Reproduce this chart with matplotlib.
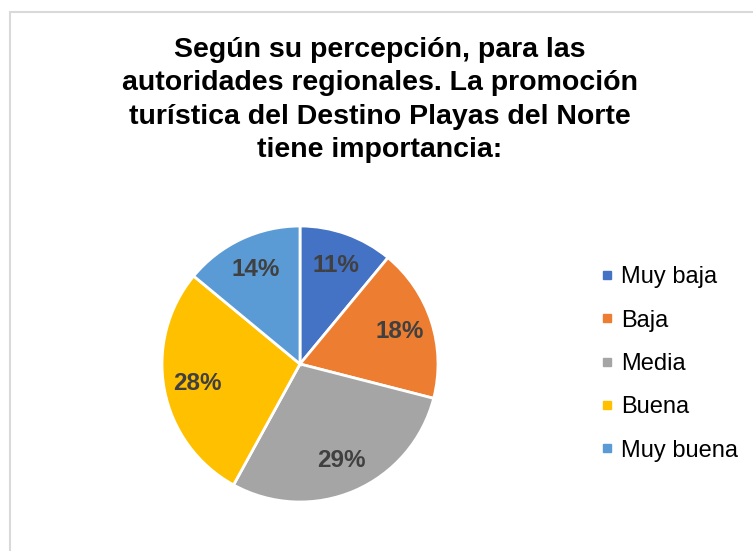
import matplotlib.pyplot as plt
from matplotlib.lines import Line2D
from matplotlib.patches import Rectangle

plt.rcParams["font.family"] = ["Liberation Sans", "DejaVu Sans"]

categories = ["Muy baja", "Baja", "Media", "Buena", "Muy buena"]
shares = [11, 18, 29, 28, 14]
colors = ["#4472C4", "#ED7D31", "#A5A5A5", "#FFC000", "#5B9BD5"]
title = ("Según su percepción, para las\n"
         "autoridades regionales. La promoción\n"
         "turística del Destino Playas del Norte\n"
         "tiene importancia:")

W, H = 753, 551
fig = plt.figure(figsize=(W / 100, H / 100), dpi=100)

# chart-area border (light gray, cut off at right/bottom)
fig.patches.append(Rectangle((10 / W, -0.1), 1.1, (H - 11.5) / H + 0.1,
                             transform=fig.transFigure, fill=False,
                             edgecolor="#D9D9D9", linewidth=1.5))

fig.text(380 / W, 1 - 100 / H, title, ha="center", va="center",
         fontsize=20.5, fontweight="bold", linespacing=1.37, color="black")

# pie centre (300, 364), radius 138 px
r = 138
ax = fig.add_axes([(300 - r) / W, (H - 364 - r) / H, 2 * r / W, 2 * r / H])
wedges, _, autotexts = ax.pie(
    shares, colors=colors, startangle=90, counterclock=False,
    autopct=lambda p: f"{p:.0f}%", pctdistance=0.76,
    wedgeprops=dict(edgecolor="white", linewidth=2),
    textprops=dict(fontsize=17.5, fontweight="bold", color="#404040"),
)
ax.set_xlim(-1, 1)
ax.set_ylim(-1, 1)
ax.set_aspect("equal")

handles = [Line2D([], [], marker="s", linestyle="none", markersize=5.5,
                  markerfacecolor=c, markeredgecolor=c) for c in colors]
fig.legend(handles, categories, loc="center left",
           bbox_to_anchor=(589 / W, 1 - 364 / H), frameon=False,
           fontsize=17, handlelength=0.5, handletextpad=0.35,
           labelspacing=0.9, borderpad=0)

fig.savefig("out.png", dpi=100, facecolor="white")
